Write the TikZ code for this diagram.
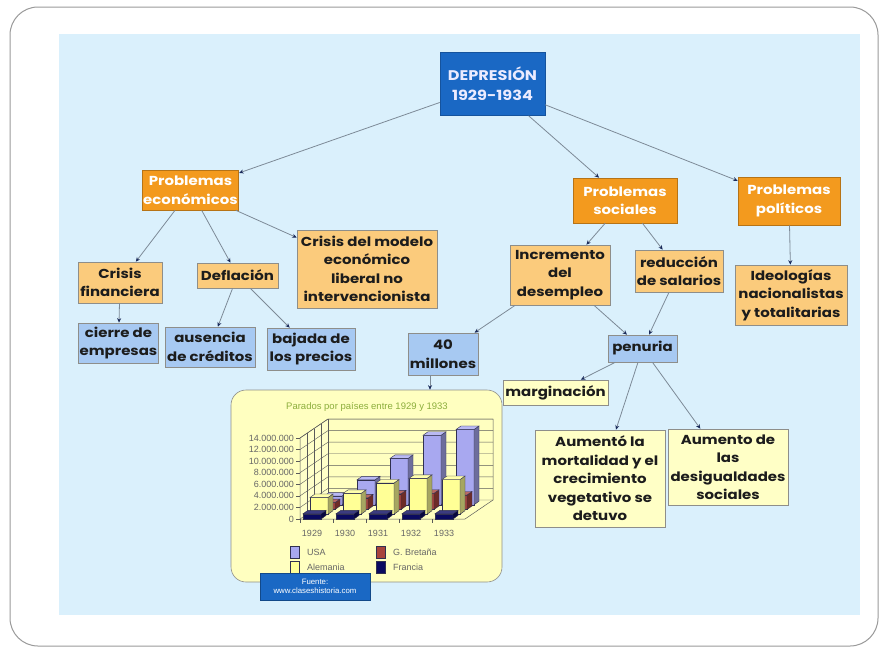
\documentclass[tikz,border=0pt]{standalone}
\usepackage{fontspec}
\usepackage{tikz}
\usetikzlibrary{arrows.meta}

\newfontfamily\mapfont{Poppins}[FakeStretch=1.15]
\newfontfamily\chartfont{Liberation Sans}

\definecolor{panelblue}{HTML}{DAF0FC}
\definecolor{framegray}{HTML}{9A9A9A}
\definecolor{deepblue}{HTML}{1A68C4}
\definecolor{orangebox}{HTML}{F39A1E}
\definecolor{orangelite}{HTML}{FBCB7C}
\definecolor{bluelite}{HTML}{A7C9F2}
\definecolor{yellowlite}{HTML}{FFFFC6}
\definecolor{boxedge}{HTML}{8E8E8A}
\definecolor{inkdark}{HTML}{1C1C1C}
\definecolor{linegray}{HTML}{7D8A97}
\definecolor{tipnavy}{HTML}{1A2A5A}
\definecolor{chartyellow}{HTML}{FFFFC0}
\definecolor{gridgray}{HTML}{5A5A5A}
\definecolor{titlegreen}{HTML}{8CAE3C}
\definecolor{usabar}{HTML}{A8A8F0}
\definecolor{gbbar}{HTML}{A8443C}
\definecolor{debar}{HTML}{FFFF96}
\definecolor{frbar}{HTML}{0A0A60}
\definecolor{bardark}{HTML}{303050}

\newcommand{\barbox}[4]{%
  \filldraw[draw=bardark, line width=0.4pt, fill=#4] (#1,#2) rectangle ++(18,-#3);
  \filldraw[draw=bardark, line width=0.4pt, fill=#4!65!black] (#1+18,#2) -- ++(5,-3.5) -- ++(0,-#3) -- ++(-5,3.5) -- cycle;
  \filldraw[draw=bardark, line width=0.4pt, fill=#4!80!white] (#1,#2-#3) -- ++(5,-3.5) -- ++(18,0) -- ++(-5,3.5) -- cycle;
}

\tikzset{
  box/.style={draw=boxedge, line width=0.6pt, inner sep=1pt, align=center,
    font=\mapfont\bfseries\fontsize{13}{18.5}\selectfont, text=inkdark},
  topbox/.style={box, fill=deepblue, draw=deepblue!80!black, text=blue!8!white,
    font=\mapfont\bfseries\fontsize{14}{20}\selectfont},
  mainbox/.style={box, fill=orangebox, draw=orangebox!75!black, text=white},
  subbox/.style={box, fill=orangelite},
  leafbox/.style={box, fill=bluelite},
  notebox/.style={box, fill=yellowlite},
  conn/.style={draw=linegray, line width=0.8pt, -{Stealth[length=4.5pt,width=4pt,color=tipnavy]}},
  charttext/.style={font=\chartfont\fontsize{9}{10}\selectfont, text=gray!80!black, inner sep=1pt}
}

\begin{document}
\begin{tikzpicture}[x=1pt,y=-1pt]
\useasboundingbox (0,0) rectangle (882,651);
\fill[white] (0,0) rectangle (882,651);
\draw[framegray, line width=1pt, rounded corners=28pt] (10,7) rectangle (878,646);
\fill[panelblue] (59,34) rectangle (860,615);

\node[topbox, minimum width=105pt, minimum height=63pt] (dep) at (492.5,84) {DEPRESIÓN\\1929-1934};

\node[mainbox, minimum width=95pt, minimum height=40pt] (econ) at (190.5,190) {Problemas\\económicos};
\node[mainbox, minimum width=104pt, minimum height=45pt] (soc) at (625,200.5) {Problemas\\sociales};
\node[mainbox, minimum width=102pt, minimum height=48pt] (pol) at (789,201) {Problemas\\políticos};

\node[subbox, minimum width=84pt, minimum height=41pt] (finan) at (120,282.5) {Crisis\\financiera};
\node[subbox, minimum width=81pt, minimum height=25pt] (defl) at (237.5,275.5) {Deflación};
\node[subbox, minimum width=140pt, minimum height=78pt] (model) at (367,269) {Crisis del modelo\\económico\\liberal no\\intervencionista};
\node[subbox, minimum width=100pt, minimum height=60pt] (desem) at (560,275) {Incremento\\del\\desempleo};
\node[subbox, minimum width=88pt, minimum height=42pt] (salar) at (679,271) {reducción\\de salarios};
\node[subbox, minimum width=112pt, minimum height=60pt] (ideo) at (791,295) {Ideologías\\nacionalistas\\y totalitarias};

\node[leafbox, minimum width=77pt, minimum height=40pt] (cierre) at (118.5,343) {cierre de\\empresas};
\node[leafbox, minimum width=90pt, minimum height=40pt] (credit) at (210,347) {ausencia\\de créditos};
\node[leafbox, minimum width=88pt, minimum height=42pt] (precio) at (311,349) {bajada de\\los precios};
\node[leafbox, minimum width=70pt, minimum height=42pt] (parados) at (443,354) {40\\millones};
\node[leafbox, minimum width=69pt, minimum height=27pt] (penuria) at (642.5,348.5) {penuria};

\node[notebox, minimum width=105pt, minimum height=25pt] (margin) at (555.5,392.5) {marginación};
\node[notebox, minimum width=130pt, minimum height=97pt] (mortal) at (600,478.5) {Aumentó la\\mortalidad y el\\crecimiento\\vegetativo se\\detuvo};
\node[notebox, minimum width=120pt, minimum height=76pt] (desig) at (728,467) {Aumento de\\las\\desigualdades\\sociales};

\node[draw=boxedge, line width=0.6pt, fill=chartyellow, rounded corners=15pt, minimum width=271pt, minimum height=192pt] (chart) at (366.5,486) {};

\draw[conn] (dep) -- (econ);
\draw[conn] (dep) -- (soc);
\draw[conn] (dep) -- (pol);
\draw[conn] (econ) -- (finan);
\draw[conn] (econ) -- (defl);
\draw[conn] (econ) -- (model);
\draw[conn] (finan) -- (cierre);
\draw[conn] (defl) -- (credit);
\draw[conn] (defl) -- (precio);
\draw[conn] (soc) -- (desem);
\draw[conn] (soc) -- (salar);
\draw[conn] (pol) -- (ideo);
\draw[conn] (desem) -- (parados);
\draw[conn] (desem) -- (penuria);
\draw[conn] (salar) -- (penuria);
\draw[conn] ([xshift=-13pt]parados.south) -- ([xshift=-13pt]parados.south |- chart.north);
\draw[conn] (penuria) -- (margin);
\draw[conn] (penuria) -- (mortal);
\draw[conn] (penuria) -- (desig);

\node[font=\chartfont\fontsize{9.5}{11}\selectfont, text=titlegreen] (ctitle) at (367,407) {Parados por países entre 1929 y 1933};

\fill[chartyellow!85!white] (300,519) -- (328,500) -- (328,419) -- (300,438) -- cycle;
\foreach \k in {0,...,7}
  \draw[gridgray, line width=0.4pt] (300,519-11.57*\k) -- (328,500-11.57*\k) -- (493,500-11.57*\k);
\foreach \f in {0.25,0.5,0.75}
  \draw[gridgray, line width=0.4pt] (300+28*\f,519-19*\f) -- (300+28*\f,438-19*\f);
\draw[gridgray, line width=0.5pt] (300,519) -- (300,438) -- (328,419) -- (493,419) -- (493,500) -- (465,519) -- cycle;
\draw[gridgray, line width=0.5pt] (328,419) -- (328,500);
\foreach \k/\lab in {0/0,1/2.000.000,2/4.000.000,3/6.000.000,4/8.000.000,5/10.000.000,6/12.000.000,7/14.000.000}{
  \draw[gridgray, line width=0.4pt] (296,519-11.57*\k) -- (300,519-11.57*\k);
  \node[charttext, anchor=east] (ylab\k) at (295,519-11.57*\k) {\lab};
}

\foreach \d/\col/\vals in {3/usabar/{1.5,4.3,8.0,12.0,13.0}, 2/gbbar/{1.2,2.0,2.7,2.8,2.5}, 1/debar/{2.9,3.6,5.4,6.2,6.0}, 0/frbar/{0.9,0.9,0.9,0.9,0.9}}
  \foreach \v [count=\i from 0] in \vals
    \barbox{303+33*\i+7*\d}{519-4.75*\d}{5.79*\v}{\col};

\foreach \yr [count=\i from 0] in {1929,...,1933}{
  \draw[gridgray, line width=0.4pt] (300+33*\i,519) -- (300+33*\i,523);
  \node[charttext] (yr\i) at (312+33*\i,533) {\yr};
}

\filldraw[draw=bardark, line width=0.4pt, fill=usabar] (290,546) rectangle (299,558);
\filldraw[draw=bardark, line width=0.4pt, fill=debar] (290,561) rectangle (299,573);
\filldraw[draw=bardark, line width=0.4pt, fill=gbbar] (376,546) rectangle (385,558);
\filldraw[draw=bardark, line width=0.4pt, fill=frbar] (376,561) rectangle (385,573);
\node[charttext, anchor=west] (legusa) at (306,552) {USA};
\node[charttext, anchor=west] (legde) at (306,567) {Alemania};
\node[charttext, anchor=west] (leggb) at (392,552) {G. Bretaña};
\node[charttext, anchor=west] (legfr) at (392,567) {Francia};

\node[fill=deepblue, draw=deepblue!70!black, text=white, minimum width=110pt, minimum height=27pt, inner sep=1pt, align=center, font=\chartfont\fontsize{7.8}{9}\selectfont] (fuente) at (315,586.5) {Fuente:\\www.claseshistoria.com};
\end{tikzpicture}
\end{document}
